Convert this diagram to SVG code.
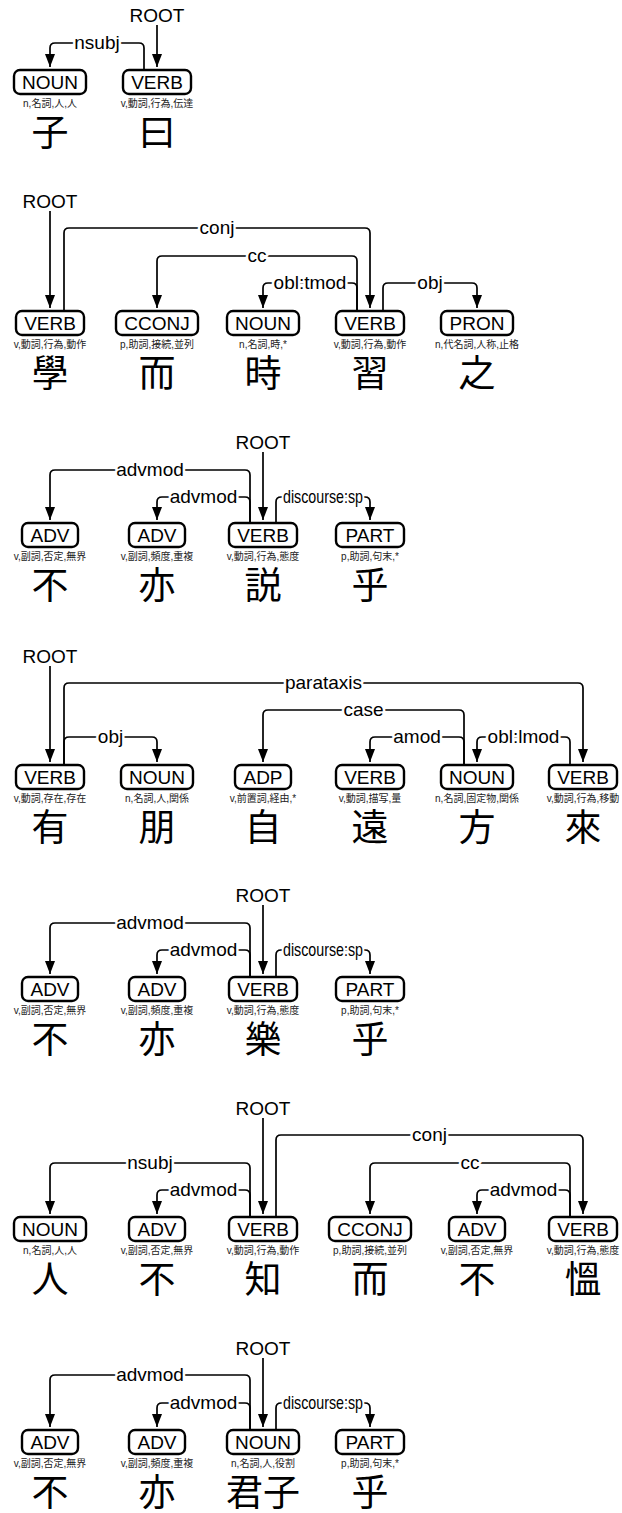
<svg xmlns="http://www.w3.org/2000/svg" width="622" height="1513" viewBox="0 0 622 1513">
<style>
.box{fill:#fff;stroke:#000;stroke-width:2.4}
.pos{font-family:"Liberation Sans",Arial,sans-serif;font-size:19px;text-anchor:middle;fill:#000}
.feat{font-family:"Liberation Sans","Noto Sans CJK JP",sans-serif;font-size:10px;text-anchor:middle;fill:#222}
.word{font-family:"Noto Sans CJK JP","Noto Sans CJK TC",sans-serif;font-size:37px;text-anchor:middle;fill:#000}
.arc{fill:none;stroke:#000;stroke-width:1.7}
.lbl{font-family:"Liberation Sans",Arial,sans-serif;font-size:19px;text-anchor:middle;fill:#000;stroke:#fff;stroke-width:5;paint-order:stroke;stroke-linejoin:round}
.root{font-family:"Liberation Sans",Arial,sans-serif;font-size:19px;text-anchor:middle;fill:#000}
</style>
<defs>
<marker id="ah" viewBox="0 0 13 10" refX="13" refY="5" markerWidth="13" markerHeight="10" markerUnits="userSpaceOnUse" orient="auto"><path d="M0,0 L13,5 L0,10 z" fill="#000"/></marker>
</defs>
<rect width="622" height="1513" fill="#fff"/>

<!-- Sentence 1 -->
<g id="s1-w1"><rect class="box" x="14" y="70" width="72" height="24" rx="6"/><text class="pos" x="50" y="89">NOUN</text><text class="feat" x="50" y="107">n,名詞,人,人</text><text class="word" x="50" y="146">子</text></g>
<g id="s1-w2"><rect class="box" x="123" y="70" width="68" height="24" rx="6"/><text class="pos" x="157" y="89">VERB</text><text class="feat" x="157" y="107">v,動詞,行為,伝達</text><text class="word" x="157" y="146">曰</text></g>

<!-- Sentence 2 -->
<g id="s2-w1"><rect class="box" x="16" y="311" width="68" height="24" rx="6"/><text class="pos" x="50" y="330">VERB</text><text class="feat" x="50" y="348">v,動詞,行為,動作</text><text class="word" x="50" y="387">學</text></g>
<g id="s2-w2"><rect class="box" x="116" y="311" width="82" height="24" rx="6"/><text class="pos" x="157" y="330">CCONJ</text><text class="feat" x="157" y="348">p,助詞,接続,並列</text><text class="word" x="157" y="387">而</text></g>
<g id="s2-w3"><rect class="box" x="227" y="311" width="72" height="24" rx="6"/><text class="pos" x="263" y="330">NOUN</text><text class="feat" x="263" y="348">n,名詞,時,*</text><text class="word" x="263" y="387">時</text></g>
<g id="s2-w4"><rect class="box" x="336" y="311" width="68" height="24" rx="6"/><text class="pos" x="370" y="330">VERB</text><text class="feat" x="370" y="348">v,動詞,行為,動作</text><text class="word" x="370" y="387">習</text></g>
<g id="s2-w5"><rect class="box" x="441" y="311" width="72" height="24" rx="6"/><text class="pos" x="477" y="330">PRON</text><text class="feat" x="477" y="348">n,代名詞,人称,止格</text><text class="word" x="477" y="387">之</text></g>

<!-- Sentence 3 -->
<g id="s3-w1"><rect class="box" x="22" y="523" width="56" height="24" rx="6"/><text class="pos" x="50" y="542">ADV</text><text class="feat" x="50" y="560">v,副詞,否定,無界</text><text class="word" x="50" y="599">不</text></g>
<g id="s3-w2"><rect class="box" x="129" y="523" width="56" height="24" rx="6"/><text class="pos" x="157" y="542">ADV</text><text class="feat" x="157" y="560">v,副詞,頻度,重複</text><text class="word" x="157" y="599">亦</text></g>
<g id="s3-w3"><rect class="box" x="229" y="523" width="68" height="24" rx="6"/><text class="pos" x="263" y="542">VERB</text><text class="feat" x="263" y="560">v,動詞,行為,態度</text><text class="word" x="263" y="599">説</text></g>
<g id="s3-w4"><rect class="box" x="336" y="523" width="68" height="24" rx="6"/><text class="pos" x="370" y="542">PART</text><text class="feat" x="370" y="560">p,助詞,句末,*</text><text class="word" x="370" y="599">乎</text></g>

<!-- Sentence 4 -->
<g id="s4-w1"><rect class="box" x="16" y="765" width="68" height="24" rx="6"/><text class="pos" x="50" y="784">VERB</text><text class="feat" x="50" y="802">v,動詞,存在,存在</text><text class="word" x="50" y="841">有</text></g>
<g id="s4-w2"><rect class="box" x="121" y="765" width="72" height="24" rx="6"/><text class="pos" x="157" y="784">NOUN</text><text class="feat" x="157" y="802">n,名詞,人,関係</text><text class="word" x="157" y="841">朋</text></g>
<g id="s4-w3"><rect class="box" x="235" y="765" width="56" height="24" rx="6"/><text class="pos" x="263" y="784">ADP</text><text class="feat" x="263" y="802">v,前置詞,経由,*</text><text class="word" x="263" y="841">自</text></g>
<g id="s4-w4"><rect class="box" x="336" y="765" width="68" height="24" rx="6"/><text class="pos" x="370" y="784">VERB</text><text class="feat" x="370" y="802">v,動詞,描写,量</text><text class="word" x="370" y="841">遠</text></g>
<g id="s4-w5"><rect class="box" x="441" y="765" width="72" height="24" rx="6"/><text class="pos" x="477" y="784">NOUN</text><text class="feat" x="477" y="802">n,名詞,固定物,関係</text><text class="word" x="477" y="841">方</text></g>
<g id="s4-w6"><rect class="box" x="549" y="765" width="68" height="24" rx="6"/><text class="pos" x="583" y="784">VERB</text><text class="feat" x="583" y="802">v,動詞,行為,移動</text><text class="word" x="583" y="841">來</text></g>

<!-- Sentence 5 -->
<g id="s5-w1"><rect class="box" x="22" y="977" width="56" height="24" rx="6"/><text class="pos" x="50" y="996">ADV</text><text class="feat" x="50" y="1014">v,副詞,否定,無界</text><text class="word" x="50" y="1053">不</text></g>
<g id="s5-w2"><rect class="box" x="129" y="977" width="56" height="24" rx="6"/><text class="pos" x="157" y="996">ADV</text><text class="feat" x="157" y="1014">v,副詞,頻度,重複</text><text class="word" x="157" y="1053">亦</text></g>
<g id="s5-w3"><rect class="box" x="229" y="977" width="68" height="24" rx="6"/><text class="pos" x="263" y="996">VERB</text><text class="feat" x="263" y="1014">v,動詞,行為,態度</text><text class="word" x="263" y="1053">樂</text></g>
<g id="s5-w4"><rect class="box" x="336" y="977" width="68" height="24" rx="6"/><text class="pos" x="370" y="996">PART</text><text class="feat" x="370" y="1014">p,助詞,句末,*</text><text class="word" x="370" y="1053">乎</text></g>

<!-- Sentence 6 -->
<g id="s6-w1"><rect class="box" x="14" y="1217" width="72" height="24" rx="6"/><text class="pos" x="50" y="1236">NOUN</text><text class="feat" x="50" y="1254">n,名詞,人,人</text><text class="word" x="50" y="1293">人</text></g>
<g id="s6-w2"><rect class="box" x="129" y="1217" width="56" height="24" rx="6"/><text class="pos" x="157" y="1236">ADV</text><text class="feat" x="157" y="1254">v,副詞,否定,無界</text><text class="word" x="157" y="1293">不</text></g>
<g id="s6-w3"><rect class="box" x="229" y="1217" width="68" height="24" rx="6"/><text class="pos" x="263" y="1236">VERB</text><text class="feat" x="263" y="1254">v,動詞,行為,動作</text><text class="word" x="263" y="1293">知</text></g>
<g id="s6-w4"><rect class="box" x="329" y="1217" width="82" height="24" rx="6"/><text class="pos" x="370" y="1236">CCONJ</text><text class="feat" x="370" y="1254">p,助詞,接続,並列</text><text class="word" x="370" y="1293">而</text></g>
<g id="s6-w5"><rect class="box" x="449" y="1217" width="56" height="24" rx="6"/><text class="pos" x="477" y="1236">ADV</text><text class="feat" x="477" y="1254">v,副詞,否定,無界</text><text class="word" x="477" y="1293">不</text></g>
<g id="s6-w6"><rect class="box" x="549" y="1217" width="68" height="24" rx="6"/><text class="pos" x="583" y="1236">VERB</text><text class="feat" x="583" y="1254">v,動詞,行為,態度</text><text class="word" x="583" y="1293">慍</text></g>

<!-- Sentence 7 -->
<g id="s7-w1"><rect class="box" x="22" y="1430" width="56" height="24" rx="6"/><text class="pos" x="50" y="1449">ADV</text><text class="feat" x="50" y="1467">v,副詞,否定,無界</text><text class="word" x="50" y="1506">不</text></g>
<g id="s7-w2"><rect class="box" x="129" y="1430" width="56" height="24" rx="6"/><text class="pos" x="157" y="1449">ADV</text><text class="feat" x="157" y="1467">v,副詞,頻度,重複</text><text class="word" x="157" y="1506">亦</text></g>
<g id="s7-w3"><rect class="box" x="227" y="1430" width="72" height="24" rx="6"/><text class="pos" x="263" y="1449">NOUN</text><text class="feat" x="263" y="1467">n,名詞,人,役割</text><text class="word" x="263" y="1506">君子</text></g>
<g id="s7-w4"><rect class="box" x="336" y="1430" width="68" height="24" rx="6"/><text class="pos" x="370" y="1449">PART</text><text class="feat" x="370" y="1467">p,助詞,句末,*</text><text class="word" x="370" y="1506">乎</text></g>

<g id="connectors">
<!-- S1 -->
<text class="root" x="157" y="22">ROOT</text>
<path class="arc" d="M157,25 V67" marker-end="url(#ah)"/>
<path class="arc" d="M144,70 V48 Q144,43 139,43 H55 Q50,43 50,48 V67" marker-end="url(#ah)"/>
<text class="lbl" x="97" y="49">nsubj</text>
<!-- S2 -->
<text class="root" x="50" y="208">ROOT</text>
<path class="arc" d="M50,211 V308" marker-end="url(#ah)"/>
<path class="arc" d="M64,311 V233 Q64,228 69,228 H365 Q370,228 370,233 V308" marker-end="url(#ah)"/>
<path class="arc" d="M357,311 V261 Q357,256 352,256 H162 Q157,256 157,261 V308" marker-end="url(#ah)"/>
<path class="arc" d="M357,311 V288 Q357,283 352,283 H268 Q263,283 263,288 V308" marker-end="url(#ah)"/>
<path class="arc" d="M383,311 V288 Q383,283 388,283 H472 Q477,283 477,288 V308" marker-end="url(#ah)"/>
<text class="lbl" x="217" y="234">conj</text>
<text class="lbl" x="257" y="262">cc</text>
<text class="lbl" x="310" y="289">obl:tmod</text>
<text class="lbl" x="430" y="289">obj</text>
<!-- S3 -->
<text class="root" x="263" y="449">ROOT</text>
<path class="arc" d="M263,452 V520" marker-end="url(#ah)"/>
<path class="arc" d="M250,523 V475 Q250,470 245,470 H55 Q50,470 50,475 V520" marker-end="url(#ah)"/>
<path class="arc" d="M250,523 V502 Q250,497 245,497 H162 Q157,497 157,502 V520" marker-end="url(#ah)"/>
<path class="arc" d="M276,523 V502 Q276,497 281,497 H365 Q370,497 370,502 V520" marker-end="url(#ah)"/>
<text class="lbl" x="150" y="476">advmod</text>
<text class="lbl" x="203.5" y="503">advmod</text>
<text class="lbl" x="323" y="503" textLength="80" lengthAdjust="spacingAndGlyphs">discourse:sp</text>
<!-- S4 -->
<text class="root" x="50" y="663">ROOT</text>
<path class="arc" d="M50,666 V762" marker-end="url(#ah)"/>
<path class="arc" d="M64,765 V688 Q64,683 69,683 H578 Q583,683 583,688 V762" marker-end="url(#ah)"/>
<path class="arc" d="M64,765 V742 Q64,737 69,737 H152 Q157,737 157,742 V762" marker-end="url(#ah)"/>
<path class="arc" d="M464,765 V715 Q464,710 459,710 H268 Q263,710 263,715 V762" marker-end="url(#ah)"/>
<path class="arc" d="M464,765 V742 Q464,737 459,737 H375 Q370,737 370,742 V762" marker-end="url(#ah)"/>
<path class="arc" d="M570,765 V742 Q570,737 565,737 H482 Q477,737 477,742 V762" marker-end="url(#ah)"/>
<text class="lbl" x="323.5" y="689">parataxis</text>
<text class="lbl" x="110.5" y="743">obj</text>
<text class="lbl" x="363.5" y="716">case</text>
<text class="lbl" x="417" y="743">amod</text>
<text class="lbl" x="523.5" y="743">obl:lmod</text>
<!-- S5 -->
<text class="root" x="263" y="902">ROOT</text>
<path class="arc" d="M263,905 V974" marker-end="url(#ah)"/>
<path class="arc" d="M250,977 V928 Q250,923 245,923 H55 Q50,923 50,928 V974" marker-end="url(#ah)"/>
<path class="arc" d="M250,977 V955 Q250,950 245,950 H162 Q157,950 157,955 V974" marker-end="url(#ah)"/>
<path class="arc" d="M276,977 V955 Q276,950 281,950 H365 Q370,950 370,955 V974" marker-end="url(#ah)"/>
<text class="lbl" x="150" y="929">advmod</text>
<text class="lbl" x="203.5" y="956">advmod</text>
<text class="lbl" x="323" y="956" textLength="80" lengthAdjust="spacingAndGlyphs">discourse:sp</text>
<!-- S6 -->
<text class="root" x="263" y="1115">ROOT</text>
<path class="arc" d="M263,1118 V1214" marker-end="url(#ah)"/>
<path class="arc" d="M276,1217 V1140 Q276,1135 281,1135 H578 Q583,1135 583,1140 V1214" marker-end="url(#ah)"/>
<path class="arc" d="M250,1217 V1168 Q250,1163 245,1163 H55 Q50,1163 50,1168 V1214" marker-end="url(#ah)"/>
<path class="arc" d="M250,1217 V1195 Q250,1190 245,1190 H162 Q157,1190 157,1195 V1214" marker-end="url(#ah)"/>
<path class="arc" d="M570,1217 V1168 Q570,1163 565,1163 H375 Q370,1163 370,1168 V1214" marker-end="url(#ah)"/>
<path class="arc" d="M570,1217 V1195 Q570,1190 565,1190 H482 Q477,1190 477,1195 V1214" marker-end="url(#ah)"/>
<text class="lbl" x="429.5" y="1141">conj</text>
<text class="lbl" x="150" y="1169">nsubj</text>
<text class="lbl" x="203.5" y="1196">advmod</text>
<text class="lbl" x="470" y="1169">cc</text>
<text class="lbl" x="523.5" y="1196">advmod</text>
<!-- S7 -->
<text class="root" x="263" y="1355">ROOT</text>
<path class="arc" d="M263,1358 V1427" marker-end="url(#ah)"/>
<path class="arc" d="M250,1430 V1380 Q250,1375 245,1375 H55 Q50,1375 50,1380 V1427" marker-end="url(#ah)"/>
<path class="arc" d="M250,1430 V1408 Q250,1403 245,1403 H162 Q157,1403 157,1408 V1427" marker-end="url(#ah)"/>
<path class="arc" d="M276,1430 V1408 Q276,1403 281,1403 H365 Q370,1403 370,1408 V1427" marker-end="url(#ah)"/>
<text class="lbl" x="150" y="1381">advmod</text>
<text class="lbl" x="203.5" y="1409">advmod</text>
<text class="lbl" x="323" y="1409" textLength="80" lengthAdjust="spacingAndGlyphs">discourse:sp</text>
</g>
</svg>
